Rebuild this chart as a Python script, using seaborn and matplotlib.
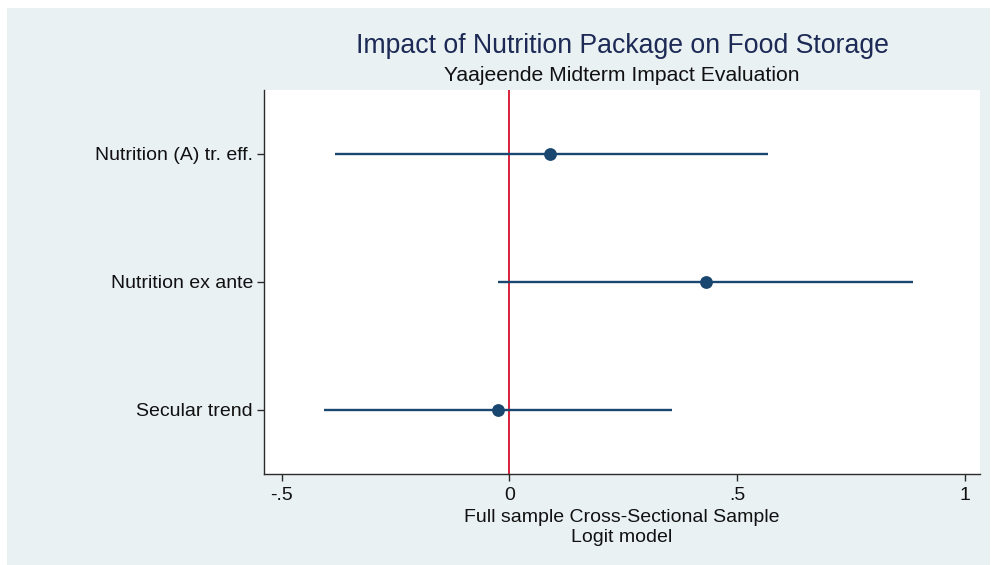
import matplotlib
matplotlib.use("Agg")
import matplotlib.pyplot as plt
from matplotlib.patches import Rectangle
import pandas as pd
import seaborn as sns

# Coefficients and 95% confidence bounds from the logit model
terms = ["Nutrition (A) tr. eff.", "Nutrition ex ante", "Secular trend"]
coef = [0.089, 0.431, -0.025]
ci_low = [-0.383, -0.026, -0.407]
ci_high = [0.567, 0.885, 0.357]

xticks = [-0.5, 0, 0.5, 1]
xtick_labels = ["-.5", "0", ".5", "1"]

df = pd.DataFrame({"term": terms, "coef": coef, "lo": ci_low, "hi": ci_high})

sns.set_theme(style="white")
plt.rcParams["font.family"] = ["Liberation Sans", "DejaVu Sans"]

BG = "#eaf1f3"
NAVY = "#1a476f"

fig = plt.figure(figsize=(9.97, 5.65), dpi=100, facecolor="white")
# outer graph region
fig.patches.append(Rectangle((7 / 997, -0.01), (990 - 7) / 997, 1.01 - 8 / 565,
                             transform=fig.transFigure, facecolor=BG,
                             edgecolor="none", zorder=-10))

ax = fig.add_axes([264 / 997, 1 - 474 / 565, (980 - 264) / 997, (474 - 90) / 565])
ax.set_facecolor("white")

ax.axvline(0, color="#d4102b", lw=1.3, zorder=1)
ax.hlines(y=df["term"], xmin=df["lo"], xmax=df["hi"], color=NAVY, lw=1.7, zorder=2)
sns.scatterplot(data=df, x="coef", y="term", ax=ax, color=NAVY, s=85,
                edgecolor=NAVY, linewidth=0, zorder=3, legend=False)

ax.set_ylim(2.5, -0.5)
ax.set_xlim(-0.539, 1.033)
ax.set_xticks(xticks)
ax.set_xticklabels(xtick_labels)

for side in ["top", "right"]:
    ax.spines[side].set_visible(False)
for side in ["left", "bottom"]:
    ax.spines[side].set_color("#2b2b2b")
    ax.spines[side].set_linewidth(1.0)

ax.tick_params(axis="both", which="major", direction="out", length=5, width=1.0,
               color="#2b2b2b", labelsize=14, labelcolor="#111111",
               left=True, bottom=True)
ax.tick_params(axis="y", pad=3)
ax.tick_params(axis="x", pad=4)

ax.set_ylabel("")
ax.set_xlabel("Full sample Cross-Sectional Sample\nLogit model", fontsize=14,
              color="#111111", labelpad=4, linespacing=1.2)

cx = (264 + 980) / 2 / 997
fig.text(cx, 1 - 46 / 565, "Impact of Nutrition Package on Food Storage",
         ha="center", va="center", fontsize=19.2, color="#1c2a55")
fig.text(cx, 1 - 76 / 565, "Yaajeende Midterm Impact Evaluation",
         ha="center", va="center", fontsize=15.2, color="#111111")

fig.savefig("out.png", dpi=100, facecolor="white")
